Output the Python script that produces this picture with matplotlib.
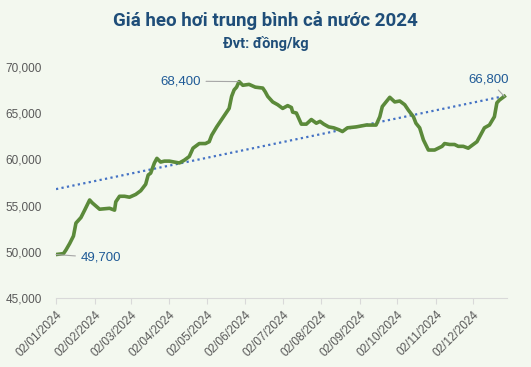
import numpy as np
import pandas as pd
import matplotlib
matplotlib.use("Agg")
import matplotlib.pyplot as plt
import matplotlib.dates as mdates

# data (VND/kg)
dates = ["2024-01-02", "2024-01-08", "2024-01-10", "2024-01-13", "2024-01-16", "2024-01-18",
         "2024-01-22", "2024-01-25", "2024-01-29", "2024-01-31", "2024-02-06", "2024-02-14",
         "2024-02-18", "2024-02-19", "2024-02-22", "2024-02-26", "2024-03-01", "2024-03-06",
         "2024-03-10", "2024-03-14", "2024-03-16", "2024-03-18", "2024-03-21", "2024-03-23",
         "2024-03-26", "2024-03-29", "2024-04-02", "2024-04-10", "2024-04-14", "2024-04-18",
         "2024-04-21", "2024-04-26", "2024-05-01", "2024-05-04", "2024-05-06", "2024-05-10",
         "2024-05-14", "2024-05-18", "2024-05-20", "2024-05-22", "2024-05-24", "2024-05-26",
         "2024-05-28", "2024-05-31", "2024-06-05", "2024-06-10", "2024-06-16", "2024-06-18",
         "2024-06-20", "2024-06-24", "2024-06-28", "2024-07-02", "2024-07-06", "2024-07-09",
         "2024-07-10", "2024-07-13", "2024-07-17", "2024-07-21", "2024-07-25", "2024-07-29",
         "2024-08-01", "2024-08-04", "2024-08-08", "2024-08-12", "2024-08-16", "2024-08-19",
         "2024-08-23", "2024-08-30", "2024-09-07", "2024-09-15", "2024-09-18", "2024-09-20",
         "2024-09-26", "2024-09-30", "2024-10-04", "2024-10-08", "2024-10-11", "2024-10-15",
         "2024-10-17", "2024-10-20", "2024-10-23", "2024-10-27", "2024-11-01", "2024-11-07",
         "2024-11-09", "2024-11-13", "2024-11-17", "2024-11-20", "2024-11-24", "2024-11-28",
         "2024-12-02", "2024-12-05", "2024-12-07", "2024-12-11", "2024-12-15", "2024-12-19",
         "2024-12-21", "2024-12-23", "2024-12-27"]
prices = [49700, 49800, 50200, 50900, 51700, 53100,
          53700, 54500, 55600, 55300, 54600, 54700,
          54500, 55400, 56000, 56000, 55900, 56200,
          56600, 57300, 58300, 58500, 59600, 60100,
          59700, 59800, 59800, 59600, 59900, 60300,
          61200, 61700, 61700, 61900, 62600, 63500,
          64300, 65100, 65500, 66800, 67500, 67800,
          68400, 68000, 68100, 67800, 67700, 67300,
          66800, 66200, 65900, 65500, 65800, 65600,
          65100, 65000, 63800, 63800, 64300, 63900,
          64100, 63800, 63500, 63400, 63200, 63000,
          63400, 63500, 63700, 63700, 64600, 65700,
          66700, 66200, 66300, 65900, 65300, 64600,
          63900, 63400, 62100, 61000, 61000, 61400,
          61700, 61600, 61600, 61400, 61400, 61200,
          61600, 61900, 62400, 63400, 63700, 64600,
          66100, 66400, 66800]
tick_dates = ["2024-%02d-02" % m for m in range(1, 13)]
y_ticks = [45000, 50000, 55000, 60000, 65000, 70000]

x = pd.to_datetime(dates)
days = (x - x[0]).days.values
coef = np.polyfit(days, prices, 1)
trend = np.polyval(coef, days)

plt.rcParams["font.family"] = ["Liberation Sans", "DejaVu Sans"]

bg = "#F3F8EF"
fig = plt.figure(figsize=(5.31, 3.67), dpi=100, facecolor=bg)
ax = fig.add_axes([0.1055, 0.188, 0.849, 0.630], facecolor=bg)

ax.plot(x, trend, color="#4472C4", lw=1.6, ls=(0, (1, 1.5)))
ax.plot(x, prices, color="#5B8A3A", lw=2.6, solid_joinstyle="round")

ax.set_ylim(45000, 70000)
ax.set_xlim(x[0], pd.Timestamp("2024-12-29"))
ax.set_yticks(y_ticks)
ax.yaxis.set_major_formatter(matplotlib.ticker.FuncFormatter(lambda v, p: f"{int(v):,}"))
ax.set_xticks(pd.to_datetime(tick_dates))
ax.xaxis.set_major_formatter(mdates.DateFormatter("%d/%m/%Y"))

for s in ["top", "right", "left"]:
    ax.spines[s].set_visible(False)
ax.spines["bottom"].set_color("#D9D9D9")
ax.tick_params(axis="y", length=0, pad=10, labelsize=8.5, labelcolor="#595959")
ax.tick_params(axis="x", length=4, color="#D9D9D9", labelsize=8.5, labelcolor="#595959")
for lab in ax.get_xticklabels():
    lab.set_rotation(45)
    lab.set_ha("right")
    lab.set_rotation_mode("anchor")

lbl = dict(color="#1F5A96", fontsize=9.5, va="center")
arrow = dict(arrowstyle="-", color="#A6A6A6", lw=0.8, shrinkA=2, shrinkB=0)
i0, imax, iend = 0, int(np.argmax(prices)), len(prices) - 1
ax.annotate(f"{prices[i0]:,}", (x[i0], prices[i0]), xytext=(pd.Timestamp("2024-01-22"), 49350),
            ha="left", arrowprops=arrow, **lbl)
ax.annotate(f"{prices[imax]:,}", (x[imax], prices[imax]), xytext=(pd.Timestamp("2024-04-27"), 68450),
            ha="right", arrowprops=arrow, **lbl)
ax.annotate(f"{prices[iend]:,}", (x[iend], prices[iend]), xytext=(pd.Timestamp("2024-12-14"), 68650),
            ha="center", arrowprops=arrow, **lbl)

fig.text(0.5, 0.945, "Giá heo hơi trung bình cả nước 2024", ha="center", va="center",
         fontsize=13.5, fontweight="bold", color="#1F4E79", family="Roboto")
fig.text(0.5, 0.882, "Đvt: đồng/kg", ha="center", va="center",
         fontsize=10.5, fontweight="bold", color="#1F4E79", family="Roboto")

fig.savefig("out.png", dpi=100, facecolor=bg)
